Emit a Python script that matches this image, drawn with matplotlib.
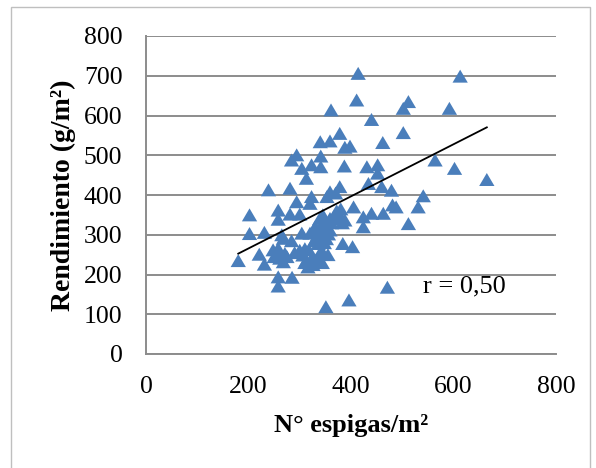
import matplotlib
matplotlib.use("Agg")
import matplotlib.pyplot as plt
import matplotlib.patches as mpatches
from matplotlib.path import Path
import numpy as np

plt.rcParams["font.family"] = ["Liberation Serif", "DejaVu Serif"]

# espigas/m2 vs rendimiento g/m2
espigas = [
    180, 202, 202, 221, 231, 231, 239, 248, 250, 258, 258, 258, 258, 258, 261,
    268, 268, 271, 281, 281, 284, 285, 284, 294, 294, 300, 300, 304, 304, 306,
    313, 313, 316, 320, 320, 323, 323, 323, 330, 330, 333, 336, 336, 339, 340,
    341, 341, 346, 349, 351, 353, 359, 359, 359, 359, 361, 378, 378, 378, 384,
    387, 388, 388, 396, 398, 403, 405, 411, 414, 424, 424, 431, 434, 440, 440,
    452, 452, 460, 463, 462, 471, 479, 481, 488, 502, 502, 512, 512, 531, 541,
    564, 592, 602, 613, 665,
    310, 318, 326, 328, 335, 342, 344, 348, 352, 355, 362, 366, 372, 380, 383,
    326, 340, 345, 350, 356, 310, 290, 275, 265, 370, 380,
]
rendimiento = [
    235, 350, 303, 251, 226, 306, 413, 262, 245, 362, 339, 194, 171, 266, 241,
    291, 232, 253, 352, 417, 285, 193, 488, 501, 383, 352, 261, 467, 304, 249,
    442, 236, 219, 304, 379, 476, 396, 241, 320, 236, 295, 278, 240, 341, 534,
    498, 471, 253, 307, 119, 396, 536, 408, 312, 341, 614, 555, 421, 350, 278,
    473, 520, 337, 136, 523, 270, 370, 639, 706, 345, 320, 471, 429, 354, 590,
    476, 455, 421, 354, 532, 168, 412, 375, 370, 618, 557, 635, 328, 370, 398,
    488, 618, 467, 699, 439,
    230, 262, 225, 285, 300, 260, 230, 280, 290, 250, 330, 345, 360, 340, 330,
    310, 318, 350, 330, 302, 265, 255, 245, 300, 405, 365,
]

# linear trend shown in the chart
trend_slope = 0.655
trend_intercept = 134.6
r_label = "r = 0,50"

x_ticks = [0, 200, 400, 600, 800]
y_ticks = [0, 100, 200, 300, 400, 500, 600, 700, 800]

blue = "#4a7ebb"
grid_grey = "#8c8c8c"

tri = Path([(0, 0.85), (-1, -0.85), (1, -0.85), (0, 0.85)],
           [Path.MOVETO, Path.LINETO, Path.LINETO, Path.CLOSEPOLY])

fig = plt.figure(figsize=(5.96, 4.68), dpi=100)
ax = fig.add_axes([146 / 596, 1 - 354 / 468, 410 / 596, 318 / 468])

ax.scatter(espigas, rendimiento, marker=tri, s=11 ** 2, color=blue,
           edgecolors="none", zorder=3)

xs = np.array([min(espigas), max(espigas)])
ax.plot(xs, trend_slope * xs + trend_intercept, color="black", lw=1.3, zorder=4)

ax.text(540, 170, r_label, fontsize=19, va="center", ha="left")

ax.set_xlim(0, 800)
ax.set_ylim(0, 800)
ax.set_xticks(x_ticks)
ax.set_yticks(y_ticks)
ax.tick_params(axis="both", length=0, labelsize=18.5)
ax.tick_params(axis="y", pad=17)
ax.tick_params(axis="x", pad=16)
ax.yaxis.grid(True, color=grid_grey, lw=1.4)
ax.set_axisbelow(True)
for side in ["top", "right"]:
    ax.spines[side].set_visible(False)
for side in ["left", "bottom"]:
    ax.spines[side].set_color(grid_grey)
    ax.spines[side].set_linewidth(1.4)

ax.set_xlabel("N° espigas/m²", fontsize=19, fontweight="bold")
ax.set_ylabel("Rendimiento (g/m²)", fontsize=20, fontweight="bold")
ax.xaxis.set_label_coords(0.5, -0.189)
ax.yaxis.set_label_coords(-0.17, 0.5)

# light frame round the chart, open at the bottom
frame = mpatches.Rectangle((11 / 596, -0.1), (590 - 11) / 596, 1.1 - 7 / 468,
                           transform=fig.transFigure, fill=False,
                           edgecolor="#bfbfbf", lw=1.0, clip_on=False)
fig.patches.append(frame)

fig.savefig("out.png", dpi=100)
